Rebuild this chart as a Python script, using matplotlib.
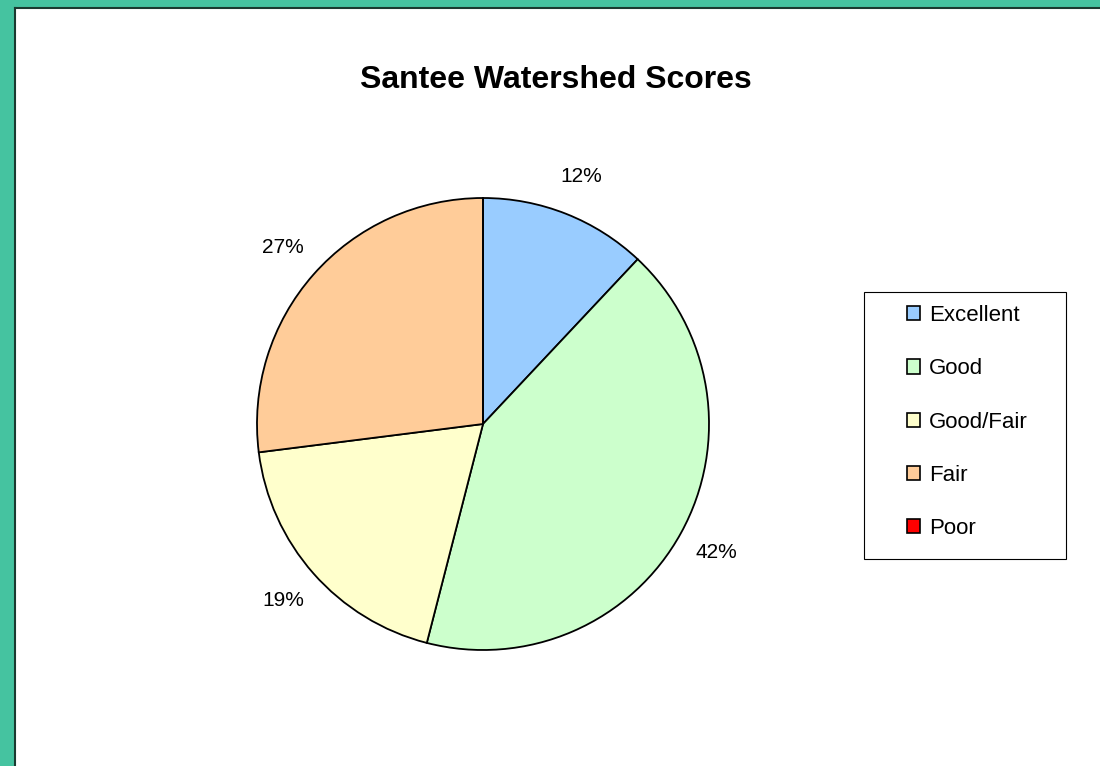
import matplotlib.pyplot as plt
from matplotlib.patches import Rectangle

plt.rcParams['font.family'] = ['Liberation Sans', 'DejaVu Sans']

# Data
labels = ['Excellent', 'Good', 'Good/Fair', 'Fair', 'Poor']
values = [12, 42, 19, 27, 0]
colors = ['#99CCFF', '#CCFFCC', '#FFFFCC', '#FFCC99', '#FF0000']
title = 'Santee Watershed Scores'

W, H = 1100, 766
fig = plt.figure(figsize=(W / 100, H / 100), dpi=100)
fig.patch.set_facecolor('#45C3A0')

# white chart area with dark left/top edge
fig.patches.append(Rectangle((15 / W, 0), 1 - 15 / W, 1 - 8 / H, transform=fig.transFigure,
                             facecolor='white', edgecolor='none', zorder=-5))
fig.add_artist(plt.Line2D([15 / W, 15 / W], [0, 1 - 8 / H], color='#1a3a30', lw=1.5, transform=fig.transFigure))
fig.add_artist(plt.Line2D([15 / W, 1], [1 - 8 / H, 1 - 8 / H], color='#1a3a30', lw=1.5, transform=fig.transFigure))

# pie axes: center (483, 424), radius 226
cx, cy, r = 483, 424, 226
ax = fig.add_axes([(cx - r) / W, 1 - (cy + r) / H, 2 * r / W, 2 * r / H])
wedges, texts, autotexts = ax.pie(values, colors=colors, startangle=90, counterclock=False,
                                  autopct=lambda p: '%d%%' % round(p) if p > 0 else '',
                                  pctdistance=1.18, radius=1,
                                  wedgeprops=dict(edgecolor='black', linewidth=1.3),
                                  textprops=dict(fontsize=15))
ax.set_xlim(-1, 1)
ax.set_ylim(-1, 1)
ax.set_aspect('equal')
ax.axis('off')

fig.text(556 / W, 1 - 80 / H, title, ha='center', va='center', fontsize=23, fontweight='bold')

# legend box
fig.patches.append(Rectangle((864 / W, 1 - 559 / H), 202 / W, 267 / H, transform=fig.transFigure,
                             facecolor='white', edgecolor='black', lw=0.8, zorder=1))
leg = fig.legend(wedges, labels, loc='center', bbox_to_anchor=(967 / W, 1 - 422 / H),
                 fontsize=16, frameon=False,
                 handlelength=0.6, handleheight=0.6, labelspacing=1.45,
                 borderpad=0, handletextpad=0.4, borderaxespad=0)
leg.set_zorder(2)
for h in leg.legend_handles:
    h.set_edgecolor('black')
    h.set_linewidth(1.2)

fig.savefig('out.png', dpi=100, facecolor=fig.get_facecolor())
